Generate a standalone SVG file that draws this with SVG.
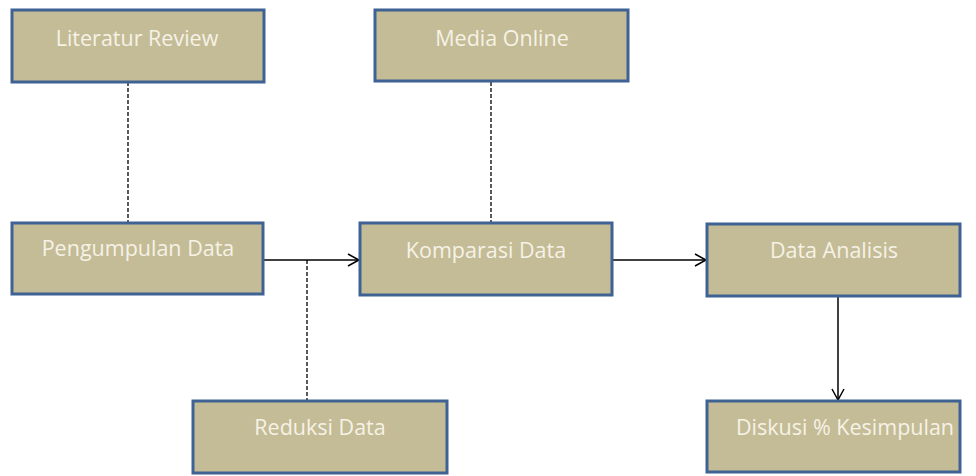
<svg xmlns="http://www.w3.org/2000/svg" width="976" height="476" viewBox="0 0 976 476">
<style>
.box{fill:#c4bc96;stroke:#3e6293;stroke-width:3}
.lbl{font-family:"Open Sans",sans-serif;font-size:21.5px;fill:#f6f2e6;text-anchor:middle}
.dash{stroke:#000;stroke-width:1.3;stroke-dasharray:4,2;fill:none}
.solid{stroke:#000;stroke-width:1.5;fill:none}
</style>
<defs>
<marker id="arr" markerWidth="14" markerHeight="14" refX="12" refY="7" orient="auto" markerUnits="userSpaceOnUse">
<path d="M1,1 L12,7 L1,13" fill="none" stroke="#000" stroke-width="1.5"/>
</marker>
</defs>
<rect width="976" height="476" fill="#fff"/>
<g id="connectors">
<line class="dash" x1="128" y1="82" x2="128" y2="223"/>
<line class="dash" x1="491" y1="82" x2="491" y2="223"/>
<line class="dash" x1="307" y1="260" x2="307" y2="400"/>
<line class="solid" x1="264" y1="260" x2="359" y2="260" marker-end="url(#arr)"/>
<line class="solid" x1="612" y1="260" x2="706" y2="260" marker-end="url(#arr)"/>
<line class="solid" x1="838" y1="296" x2="838" y2="400" marker-end="url(#arr)"/>
</g>
<g id="literatur-review"><rect class="box" x="12" y="10" width="252" height="72"/><text class="lbl" x="137" y="46">Literatur Review</text></g>
<g id="media-online"><rect class="box" x="375" y="10" width="253" height="71"/><text class="lbl" x="502" y="46">Media Online</text></g>
<g id="pengumpulan-data"><rect class="box" x="12" y="223" width="251" height="71"/><text class="lbl" x="138" y="256">Pengumpulan Data</text></g>
<g id="komparasi-data"><rect class="box" x="360" y="223" width="252" height="72"/><text class="lbl" x="486" y="258">Komparasi Data</text></g>
<g id="data-analisis"><rect class="box" x="707" y="224" width="253" height="72"/><text class="lbl" x="834" y="258">Data Analisis</text></g>
<g id="reduksi-data"><rect class="box" x="193" y="401" width="254" height="72"/><text class="lbl" x="320" y="435">Reduksi Data</text></g>
<g id="diskusi-kesimpulan"><rect class="box" x="707" y="401" width="253" height="71"/><text class="lbl" x="845" y="435">Diskusi % Kesimpulan</text></g>
</svg>
